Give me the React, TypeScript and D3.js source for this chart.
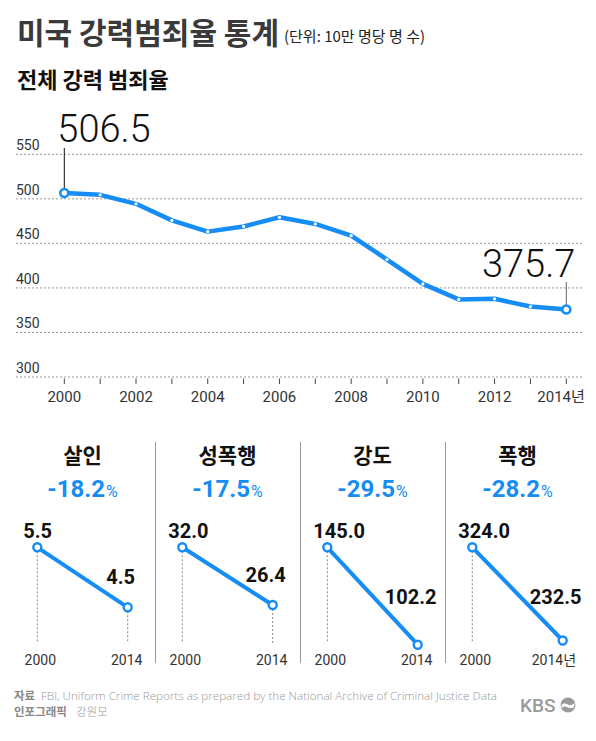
import React from "react";
import * as d3 from "d3";

const years = [2000, 2001, 2002, 2003, 2004, 2005, 2006, 2007, 2008, 2009, 2010, 2011, 2012, 2013, 2014];
const violentRate = [506.5, 504.5, 494.4, 475.8, 463.2, 469.0, 479.3, 471.8, 458.6, 431.9, 404.5, 387.1, 387.8, 379.1, 375.7];
const yTicks = [300, 350, 400, 450, 500, 550];
const xTickLabels = [2000, 2002, 2004, 2006, 2008, 2010, 2012, 2014];

const crimeNames = ["살인", "성폭행", "강도", "폭행"];
const rate2000 = [5.5, 32.0, 145.0, 324.0];
const rate2014 = [4.5, 26.4, 102.2, 232.5];
const changePct = ["-18.2", "-17.5", "-29.5", "-28.2"];

const BLUE = "#168cf5";
const KR = "'Noto Sans CJK KR', 'Noto Sans', sans-serif";
const NUM = "Roboto, 'Noto Sans', sans-serif";

export default function App() {
  const W = 596, H = 741;
  const x = d3.scaleLinear().domain([2000, 2014]).range([64.3, 566.3]);
  const y = d3.scaleLinear().domain([300, 550]).range([377, 154.3]);
  const pts: [number, number][] = years.map((yr, i) => [yr, violentRate[i]]);
  const line = d3.line<[number, number]>().x(d => x(d[0])).y(d => y(d[1]));

  const first = pts[0];
  const last = pts[pts.length - 1];

  const panelW = 145;
  const panelLeft = 10;

  return (
    <svg width={W} height={H} style={{ position: "absolute", left: 0, top: 0, background: "#fff" }}>
      {/* Title */}
      <text x={17} y={44} fontFamily={KR} fontWeight={700} fontSize={30} fill="#3a3a3a">미국 강력범죄율 통계</text>
      <text x={284} y={42} fontFamily={KR} fontWeight={400} fontSize={15} fill="#222">(단위: 10만 명당 명 수)</text>
      <text x={17} y={88} fontFamily={KR} fontWeight={700} fontSize={22} fill="#111">전체 강력 범죄율</text>

      {/* grid */}
      {yTicks.map(v => (
        <g key={v}>
          <line x1={16} x2={584} y1={y(v)} y2={y(v)} stroke="#999" strokeDasharray="2,2" strokeWidth={1} />
          <text x={16} y={y(v) - 4} fontFamily={NUM} fontSize={14} fill="#333">{v}</text>
        </g>
      ))}
      {/* x ticks */}
      {years.map(yr => (
        <line key={yr} x1={x(yr)} x2={x(yr)} y1={378.5} y2={384} stroke="#444" strokeWidth={1} />
      ))}
      {xTickLabels.map(yr => (
        yr === 2014 ? (
          <text key={yr} x={x(yr) - 29} y={402} fontFamily={NUM} fontSize={15} fill="#333">{yr}<tspan fontFamily={KR}>년</tspan></text>
        ) : (
          <text key={yr} x={x(yr)} y={402} textAnchor="middle" fontFamily={NUM} fontSize={15} fill="#333">{yr}</text>
        )
      ))}

      {/* leader lines + big labels */}
      <line x1={x(first[0])} x2={x(first[0])} y1={148} y2={y(first[1]) - 4} stroke="#111" strokeWidth={1} />
      <text x={x(first[0]) - 7} y={142} fontFamily={NUM} fontWeight={300} fontSize={38} fill="#111">{first[1].toFixed(1)}</text>
      <line x1={x(last[0])} x2={x(last[0])} y1={282} y2={y(last[1]) - 4} stroke="#666" strokeWidth={1} />
      <text x={x(last[0]) + 9} y={277} textAnchor="end" fontFamily={NUM} fontWeight={300} fontSize={38} fill="#111">{last[1].toFixed(1)}</text>

      {/* main line */}
      <path d={line(pts) || ""} fill="none" stroke={BLUE} strokeWidth={4.5} strokeLinejoin="round" strokeLinecap="round" />
      {pts.slice(1, -1).map(p => (
        <circle key={p[0]} cx={x(p[0])} cy={y(p[1])} r={1.6} fill="#fff" />
      ))}
      {[first, last].map(p => (
        <circle key={p[0]} cx={x(p[0])} cy={y(p[1])} r={4} fill="#fff" stroke={BLUE} strokeWidth={2.6} />
      ))}

      {/* small multiples */}
      {crimeNames.map((name, i) => {
        const left = panelLeft + i * panelW;
        const px = d3.scaleLinear().domain([2000, 2014]).range([left + 27.3, left + 117.7]);
        const py = d3.scaleLinear().domain([0, rate2000[i]]).range([547.3 + 330, 547.3]);
        const cx = left + 72.5;
        const x0 = px(2000), x1 = px(2014);
        const y0 = py(rate2000[i]), y1 = py(rate2014[i]);
        const isLast = i === crimeNames.length - 1;
        return (
          <g key={name}>
            {i > 0 && <line x1={left + 0.5} x2={left + 0.5} y1={442} y2={663} stroke="#999" strokeWidth={1} />}
            <text x={cx} y={463} textAnchor="middle" fontFamily={KR} fontWeight={700} fontSize={21} fill="#111">{name}</text>
            <text x={cx} y={497} textAnchor="middle" fontFamily={NUM} fontWeight={700} fontSize={24} fill={BLUE}>
              {changePct[i]}<tspan fontSize={16} fontWeight={400} dx={1}>%</tspan>
            </text>
            <line x1={x0} x2={x0} y1={y0} y2={643} stroke="#888" strokeDasharray="2,2" strokeWidth={1} />
            {y1 < 643 && <line x1={x1} x2={x1} y1={y1} y2={643} stroke="#888" strokeDasharray="2,2" strokeWidth={1} />}
            <line x1={x0} y1={y0} x2={x1} y2={y1} stroke={BLUE} strokeWidth={4} />
            <circle cx={x0} cy={y0} r={4} fill="#fff" stroke={BLUE} strokeWidth={2.4} />
            <circle cx={x1} cy={y1} r={4} fill="#fff" stroke={BLUE} strokeWidth={2.4} />
            <text x={x0 - 14} y={y0 - 9} fontFamily={NUM} fontWeight={700} fontSize={20} fill="#111">{rate2000[i].toFixed(1)}</text>
            <text x={x1 - 7} y={Math.min(y1 - 23, 604)} textAnchor="middle" fontFamily={NUM} fontWeight={700} fontSize={20} fill="#111">{rate2014[i].toFixed(1)}</text>
            <text x={x0 + 3} y={665} textAnchor="middle" fontFamily={NUM} fontSize={14} fill="#333">2000</text>
            {isLast ? (
              <text x={x1 - 31} y={665} fontFamily={NUM} fontSize={14} fill="#333">2014<tspan fontFamily={KR}>년</tspan></text>
            ) : (
              <text x={x1 - 1} y={665} textAnchor="middle" fontFamily={NUM} fontSize={14} fill="#333">2014</text>
            )}
          </g>
        );
      })}

      {/* footer */}
      <text x={14} y={700} fontFamily={KR} fontWeight={700} fontSize={11.5} fill="#888">자료</text>
      <text x={41} y={700} fontFamily="'Open Sans', sans-serif" fontWeight={300} fontSize={11.5} fill="#999" textLength={456} lengthAdjust="spacingAndGlyphs">FBI, Uniform Crime Reports as prepared by the National Archive of Criminal Justice Data</text>
      <text x={14} y={716} fontFamily={KR} fontWeight={700} fontSize={11.5} fill="#888">인포그래픽</text>
      <text x={76} y={716} fontFamily={KR} fontWeight={300} fontSize={11.5} fill="#999">강원모</text>
      {/* KBS logo */}
      <g>
        <text x={520} y={712} fontFamily="Roboto, sans-serif" fontWeight={500} fontSize={19} fill="#9a9a9a">KBS</text>
        <circle cx={568} cy={705} r={7.5} fill="#9a9a9a" />
        <path d="M561.5,705 C564,702 567,704 569,705 C571,706 573,704 574.5,703 L574,707 C572,709 569,708 567,707 C565,706 563,707 561.5,708 Z" fill="#fff" />
      </g>
    </svg>
  );
}
